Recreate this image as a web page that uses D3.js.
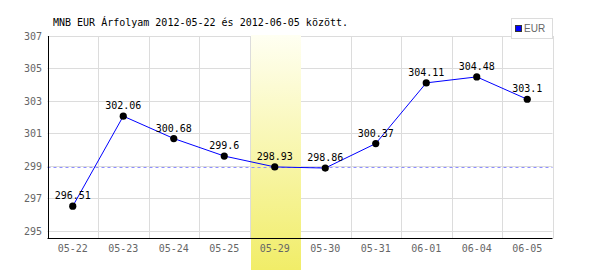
<!DOCTYPE html>
<html>
<head>
<meta charset="utf-8">
<script src="https://cdn.jsdelivr.net/npm/d3@7"></script>
<style>
  body { margin: 0; background: #fff; }
</style>
</head>
<body>
<svg id="chart" width="600" height="270"></svg>
<script>
// data
const dates = ['05-22', '05-23', '05-24', '05-25', '05-29', '05-30', '05-31', '06-01', '06-04', '06-05'];
const rates = [296.51, 302.06, 300.68, 299.6, 298.93, 298.86, 300.37, 304.11, 304.48, 303.1];
const yTicks = [295, 297, 299, 301, 303, 305, 307];
const highlightDate = '05-29';
const title = 'MNB EUR Árfolyam 2012-05-22 és 2012-06-05 között.';
const seriesName = 'EUR';

const width = 600, height = 270;
const margin = { top: 36, right: 47.5, bottom: 31.7, left: 47.5 };
const monoFont = '"DejaVu Sans Mono", "Liberation Mono", monospace';
const sansFont = '"Liberation Sans", Arial, sans-serif';

const svg = d3.select('#chart');

const x = d3.scaleBand()
  .domain(dates)
  .range([margin.left, width - margin.right]);

const y = d3.scaleLinear()
  .domain([294.53, 307])
  .range([height - margin.bottom, margin.top]);

// horizontal grid
svg.append('g')
  .selectAll('line')
  .data(yTicks)
  .join('line')
  .attr('x1', margin.left)
  .attr('x2', width - margin.right)
  .attr('y1', d => Math.round(y(d)) + 0.5)
  .attr('y2', d => Math.round(y(d)) + 0.5)
  .attr('stroke', '#dcdcdc');

// vertical grid at band boundaries
svg.append('g')
  .selectAll('line')
  .data(dates.slice(1).concat(['end']))
  .join('line')
  .attr('x1', (d, i) => Math.round(x(dates[0]) + (i + 1) * x.bandwidth()) + 0.5)
  .attr('x2', (d, i) => Math.round(x(dates[0]) + (i + 1) * x.bandwidth()) + 0.5)
  .attr('y1', margin.top)
  .attr('y2', height - margin.bottom)
  .attr('stroke', '#dcdcdc');

// highlighted day
const grad = svg.append('defs').append('linearGradient')
  .attr('id', 'hl')
  .attr('x1', 0).attr('y1', 0).attr('x2', 0).attr('y2', 1);
grad.append('stop').attr('offset', '0%').attr('stop-color', '#fffff2');
grad.append('stop').attr('offset', '100%').attr('stop-color', '#f1ed68');

svg.append('rect')
  .attr('x', Math.round(x(highlightDate)) + 1)
  .attr('y', margin.top - 1)
  .attr('width', Math.round(x.bandwidth()) - 1)
  .attr('height', height - margin.top + 1)
  .attr('fill', 'url(#hl)');

// reference line at the highlighted value
const hlValue = rates[dates.indexOf(highlightDate)];
svg.append('line')
  .attr('x1', margin.left)
  .attr('x2', width - margin.right)
  .attr('y1', Math.round(y(hlValue)) + 0.5)
  .attr('y2', Math.round(y(hlValue)) + 0.5)
  .attr('stroke', '#8f8fff')
  .attr('stroke-dasharray', '3,3');

// axes
svg.append('line')
  .attr('x1', margin.left + 1).attr('x2', margin.left + 1)
  .attr('y1', margin.top).attr('y2', height - margin.bottom)
  .attr('stroke', '#000');
svg.append('line')
  .attr('x1', margin.left).attr('x2', width - margin.right)
  .attr('y1', Math.round(height - margin.bottom) + 0.5)
  .attr('y2', Math.round(height - margin.bottom) + 0.5)
  .attr('stroke', '#000');

svg.append('g')
  .selectAll('text')
  .data(yTicks)
  .join('text')
  .attr('x', 42)
  .attr('y', d => y(d) + 4)
  .attr('text-anchor', 'end')
  .attr('font-family', monoFont)
  .attr('font-size', 10)
  .attr('fill', '#666')
  .text(d => d);

svg.append('g')
  .selectAll('text')
  .data(dates)
  .join('text')
  .attr('x', d => x(d) + x.bandwidth() / 2)
  .attr('y', 252)
  .attr('text-anchor', 'middle')
  .attr('font-family', monoFont)
  .attr('font-size', 10)
  .attr('fill', '#666')
  .text(d => d);

// series
const line = d3.line()
  .x((d, i) => x(dates[i]) + x.bandwidth() / 2)
  .y(d => y(d));

svg.append('path')
  .datum(rates)
  .attr('fill', 'none')
  .attr('stroke', '#0000ff')
  .attr('stroke-width', 1)
  .attr('d', line);

svg.append('g')
  .selectAll('circle')
  .data(rates)
  .join('circle')
  .attr('cx', (d, i) => x(dates[i]) + x.bandwidth() / 2)
  .attr('cy', d => y(d))
  .attr('r', 3.6)
  .attr('fill', '#000');

svg.append('g')
  .selectAll('text')
  .data(rates)
  .join('text')
  .attr('x', (d, i) => x(dates[i]) + x.bandwidth() / 2)
  .attr('y', d => y(d) - 7)
  .attr('text-anchor', 'middle')
  .attr('font-family', monoFont)
  .attr('font-size', 10)
  .attr('fill', '#000')
  .text(d => d);

// title
svg.append('text')
  .attr('x', 53)
  .attr('y', 26)
  .attr('font-family', monoFont)
  .attr('font-size', 10)
  .attr('fill', '#000')
  .text(title);

// legend
const legend = svg.append('g');
legend.append('rect')
  .attr('x', 511.5).attr('y', 18.5)
  .attr('width', 41).attr('height', 20)
  .attr('fill', '#fff')
  .attr('stroke', '#dcdcdc');
legend.append('rect')
  .attr('x', 515.5).attr('y', 25.5)
  .attr('width', 6).attr('height', 6)
  .attr('fill', '#0000ff')
  .attr('stroke', '#333');
legend.append('text')
  .attr('x', 524)
  .attr('y', 32)
  .attr('font-family', sansFont)
  .attr('font-size', 10)
  .attr('fill', '#666')
  .text(seriesName);
</script>
</body>
</html>
